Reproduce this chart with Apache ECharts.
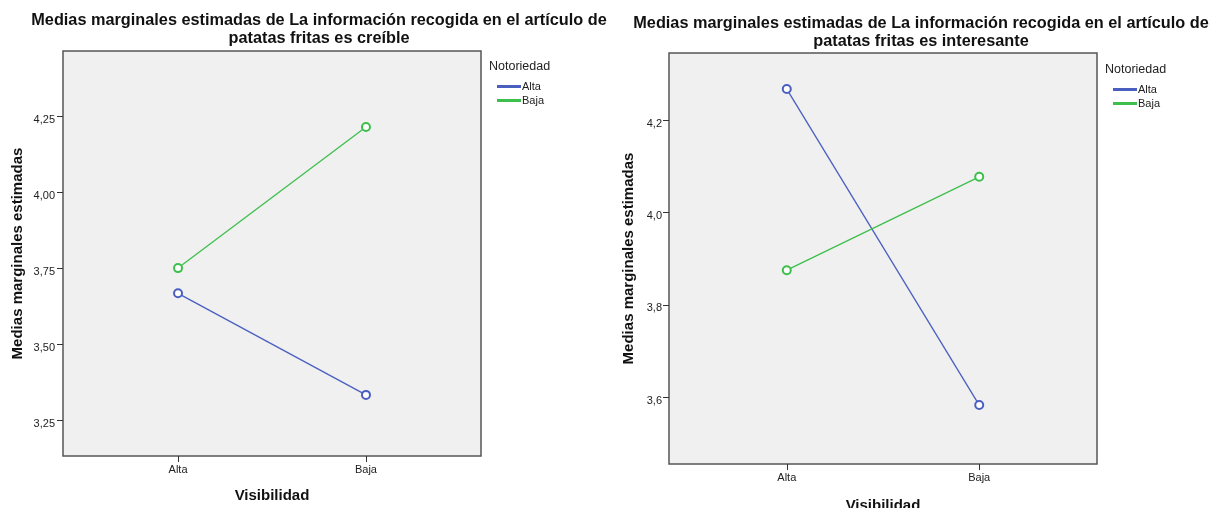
<!DOCTYPE html>
<html>
<head>
<meta charset="utf-8">
<script src="https://cdn.jsdelivr.net/npm/echarts@6/dist/echarts.min.js"></script>
<style>html,body{margin:0;padding:0;background:#fff}#c{width:1230px;height:508px}</style>
</head>
<body>
<div id="c"></div>
<script>
var categories = ['Alta', 'Baja'];
var seriesNames = ['Alta', 'Baja'];
var title1 = 'Medias marginales estimadas de La información recogida en el artículo de\npatatas fritas es creíble';
var title2 = 'Medias marginales estimadas de La información recogida en el artículo de\npatatas fritas es interesante';
var credibleAlta = [3.667, 3.333];
var credibleBaja = [3.750, 4.214];
var interesanteAlta = [4.267, 3.583];
var interesanteBaja = [3.875, 4.077];
var ticks1 = [3.25, 3.50, 3.75, 4.00, 4.25];
var ticks2 = [3.6, 3.8, 4.0, 4.2];

var BLUE = '#4a5fc0', GREEN = '#3dbf4b';
var FONT = 'Liberation Sans, Arial, sans-serif';

function pairs(arr) { return arr.map(function (v, i) { return [i, v]; }); }
function xAxis(idx) {
  return {
    type: 'value', gridIndex: idx, min: -0.612, max: 1.612,
    name: 'Visibilidad', nameLocation: 'middle', nameGap: idx === 0 ? 32 : 34,
    nameTextStyle: { fontFamily: FONT, fontWeight: 'bold', fontSize: 15, color: '#111' },
    axisLine: { show: false, onZero: false },
    splitLine: { show: false },
    axisTick: { show: true, length: 6, lineStyle: { color: '#333', width: 1 }, customValues: [0, 1] },
    axisLabel: { fontFamily: FONT, fontSize: 11, color: '#222', margin: 8, customValues: [0, 1],
      formatter: function (v) { return categories[Math.round(v)]; } }
  };
}
function yAxis(idx, min, max, ticks, dec, gap, margin) {
  return {
    type: 'value', gridIndex: idx, min: min, max: max,
    name: 'Medias marginales estimadas', nameLocation: 'middle', nameGap: gap,
    nameTextStyle: { fontFamily: FONT, fontWeight: 'bold', fontSize: 15, color: '#111' },
    axisLine: { show: false, onZero: false },
    splitLine: { show: false },
    axisTick: { show: true, length: 6, lineStyle: { color: '#333', width: 1 }, customValues: ticks },
    axisLabel: { fontFamily: FONT, fontSize: 11, color: '#222', margin: margin, customValues: ticks,
      verticalAlign: 'top', padding: [-2, 0, 0, 0],
      formatter: function (v) { return v.toFixed(dec).replace('.', ','); } }
  };
}
function line(name, data, color, idx) {
  return {
    type: 'line', name: name, xAxisIndex: idx, yAxisIndex: idx, data: pairs(data),
    symbol: 'emptyCircle', symbolSize: 8, silent: true,
    lineStyle: { color: color, width: 1.3 },
    itemStyle: { color: color, borderColor: color, borderWidth: 1 }
  };
}
function legend(left, top) {
  return {
    left: left, top: top, orient: 'vertical', itemGap: 3, itemWidth: 22, itemHeight: 1,
    padding: 0, icon: 'rect', selectedMode: false,
    textStyle: { fontFamily: FONT, fontSize: 11, color: '#222', padding: [0, 0, 0, -3] },
    data: [{ name: 'Alta', itemStyle: { color: '#6575cc' } }, { name: 'Baja', itemStyle: { color: '#4cc85a' } }]
  };
}
var titleStyle = { fontFamily: FONT, fontWeight: 'bold', fontSize: 16.3, color: '#111', lineHeight: 17.5 };
var legTitle = { fontFamily: FONT, fontSize: 12.5, fontWeight: 'normal', color: '#222' };
var chart = echarts.init(document.getElementById('c'), null, { renderer: 'canvas' });
chart.setOption({
  animation: false,
  backgroundColor: '#fff',
  title: [
    { text: title1, left: 319, top: 12, padding: 0, textAlign: 'center', textStyle: titleStyle },
    { text: title2, left: 921, top: 15, padding: 0, textAlign: 'center', textStyle: titleStyle },
    { text: 'Notoriedad', left: 489, top: 60, padding: 0, textStyle: legTitle },
    { text: 'Notoriedad', left: 1105, top: 63, padding: 0, textStyle: legTitle }
  ],
  legend: [legend(497, 81), legend(1113, 84)],
  grid: [
    { left: 63, top: 51, width: 418, height: 405, show: true, backgroundColor: '#f0f0f0', borderColor: '#555', borderWidth: 1.5, outerBoundsMode: 'none', containLabel: false },
    { left: 669, top: 53, width: 428, height: 411, show: true, backgroundColor: '#f0f0f0', borderColor: '#555', borderWidth: 1.5, outerBoundsMode: 'none', containLabel: false }
  ],
  xAxis: [xAxis(0), xAxis(1)],
  yAxis: [yAxis(0, 3.132, 4.464, ticks1, 2, 38, 8), yAxis(1, 3.4555, 4.345, ticks2, 1, 33, 7)],
  series: [
    line(seriesNames[0], credibleAlta, BLUE, 0),
    line(seriesNames[1], credibleBaja, GREEN, 0),
    line(seriesNames[0], interesanteAlta, BLUE, 1),
    line(seriesNames[1], interesanteBaja, GREEN, 1)
  ]
});
</script>
</body>
</html>
